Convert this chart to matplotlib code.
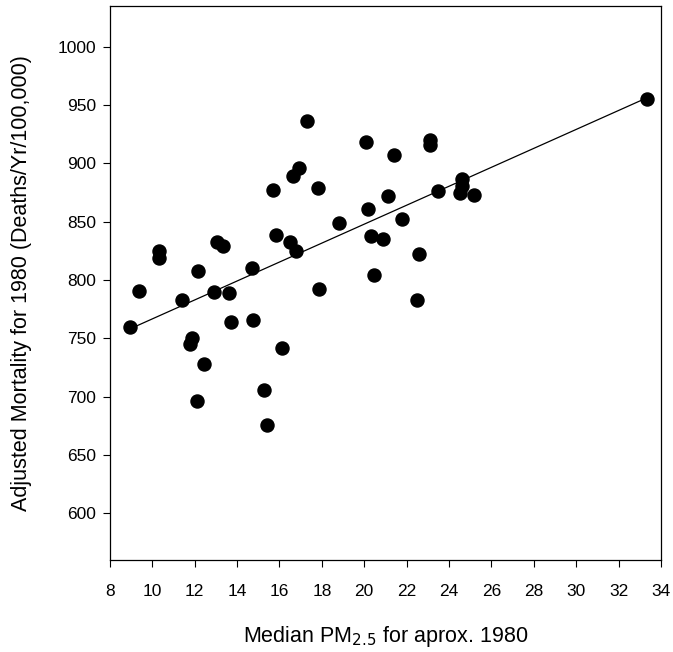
import numpy as np
import matplotlib.pyplot as plt

plt.rcParams['font.family'] = ['Liberation Sans', 'DejaVu Sans']

# median PM2.5 (approx. 1980) and adjusted mortality
pm25 = [33.35, 17.3, 20.1, 23.1, 23.1, 21.4, 16.9, 16.65, 15.7, 17.8,
        24.6, 24.6, 24.5, 23.5, 25.2, 21.1, 20.2, 21.8, 18.8,
        20.3, 20.9, 22.6, 20.45, 22.5, 17.85, 15.85, 16.5, 16.8, 14.7,
        14.75, 16.1, 15.25, 15.4, 13.7, 13.6, 12.9, 13.05, 13.35, 12.15,
        11.4, 11.85, 11.8, 12.45, 12.1, 10.3, 10.3, 9.35, 8.95]
mortality = [955, 936, 918, 920, 916, 907, 896, 889, 877, 879,
             887, 881, 875, 876, 873, 872, 861, 852, 849,
             838, 835, 822, 804, 783, 792.5, 839, 833, 825, 810,
             766, 742, 706, 675.5, 764, 789, 790, 832.5, 829, 808,
             783, 750, 745.5, 728, 696, 825, 819, 791, 760]

x_ticks = list(range(8, 35, 2))
y_ticks = list(range(600, 1001, 50))

fig = plt.figure(figsize=(6.73, 6.52), dpi=100)
ax = fig.add_axes([0.1634, 0.141, 0.8186, 0.850])

ax.plot(pm25, mortality, 'o', color='black', markersize=9.4, zorder=3)

# regression line over the data range
slope, intercept = np.polyfit(pm25, mortality, 1)
xs = np.array([min(pm25), max(pm25)])
ax.plot(xs, intercept + slope * xs, color='black', linewidth=0.9)

ax.set_xlim(8, 34)
ax.set_ylim(560, 1035)
ax.set_xticks(x_ticks)
ax.set_yticks(y_ticks)
ax.tick_params(axis='x', direction='out', length=5, pad=12, labelsize=12.5)
ax.tick_params(axis='y', direction='out', length=5, pad=5, labelsize=12.5)
for s in ax.spines.values():
    s.set_linewidth(0.9)

ax.set_xlabel('Median PM$_{2.5}$ for aprox. 1980', fontsize=15.5, labelpad=18)
ax.set_ylabel('Adjusted Mortality for 1980 (Deaths/Yr/100,000)', fontsize=15.5, labelpad=18)

fig.savefig('out.png', dpi=100)
